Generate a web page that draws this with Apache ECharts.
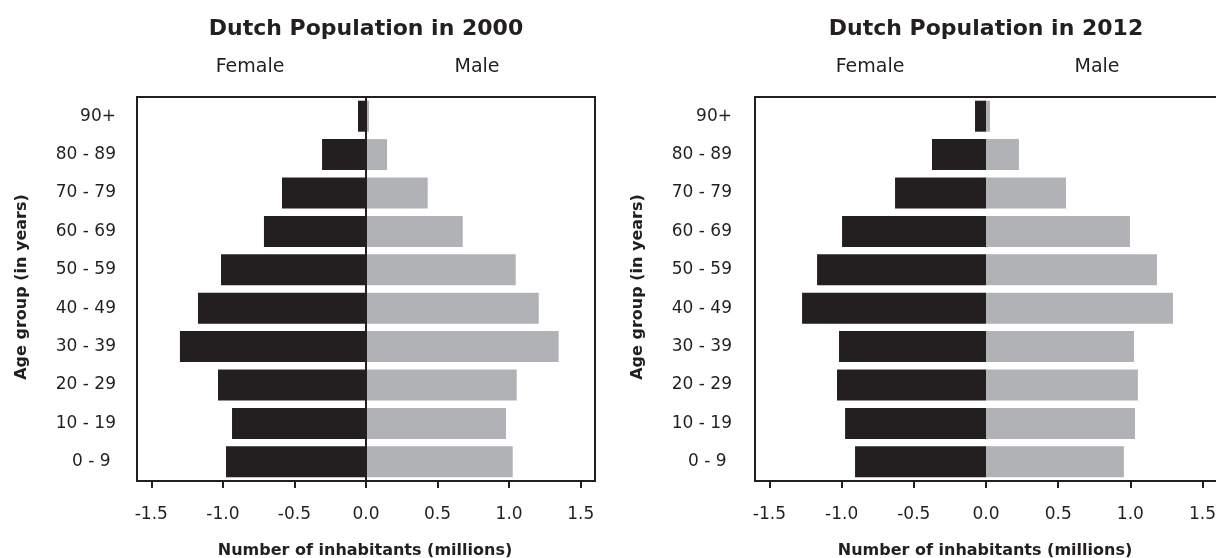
<!DOCTYPE html>
<html>
<head>
<meta charset="utf-8">
<script src="https://cdn.jsdelivr.net/npm/echarts@6/dist/echarts.min.js"></script>
<style>
html,body{margin:0;padding:0;background:#fff;}
#chart{width:1216px;height:558px;}
</style>
</head>
<body>
<div id="chart"></div>
<script>
// Age groups, bottom to top
const ageGroups = ["0 - 9 ", "10 - 19", "20 - 29", "30 - 39", "40 - 49", "50 - 59", "60 - 69", "70 - 79", "80 - 89", "90+"];
// Population in millions (bottom to top)
const female2000 = [0.978, 0.936, 1.034, 1.300, 1.174, 1.013, 0.713, 0.587, 0.307, 0.056];
const male2000   = [1.025, 0.978, 1.053, 1.346, 1.207, 1.046, 0.676, 0.431, 0.147, 0.021];
const female2012 = [0.907, 0.976, 1.032, 1.018, 1.274, 1.170, 0.997, 0.630, 0.374, 0.076];
const male2012   = [0.955, 1.032, 1.052, 1.025, 1.295, 1.184, 0.997, 0.554, 0.228, 0.028];
const xTicks = [-1.5, -1.0, -0.5, 0, 0.5, 1.0, 1.5];
const titles = ["Dutch Population in 2000", "Dutch Population in 2012"];
const sexLabels = ["Female", "Male"];
const xAxisTitle = "Number of inhabitants (millions)";
const yAxisTitle = "Age group (in years)";

const DARK = '#231f20';
const GRAY = '#b1b2b5';
const FONT = '"DejaVu Sans", "Liberation Sans", Arial, sans-serif';

const chart = echarts.init(document.getElementById('chart'), null, {renderer: 'canvas'});

function xAxisCfg(gridIndex) {
  return {
    type: 'value', gridIndex: gridIndex, min: -1.6, max: 1.6,
    axisLine: {show: false},
    splitLine: {show: false},
    axisTick: {show: true, customValues: xTicks, length: 7, lineStyle: {color: DARK, width: 2}},
    axisLabel: {customValues: xTicks, margin: 25, color: DARK, fontSize: 17, fontFamily: FONT,
      formatter: v => Number(v).toFixed(1)}
  };
}
function yAxisCfg(gridIndex, margin) {
  return {
    type: 'category', gridIndex: gridIndex, data: ageGroups,
    axisLine: {show: false},
    axisTick: {show: true, alignWithLabel: true, length: 7, lineStyle: {color: DARK, width: 2}},
    axisLabel: {interval: 0, margin: margin, color: DARK, fontSize: 17, fontFamily: FONT}
  };
}
function barSeries(idx, data, color, sign, extra) {
  return Object.assign({
    type: 'bar', xAxisIndex: idx, yAxisIndex: idx,
    data: data.map(v => sign * v),
    barWidth: 31, barGap: '-100%',
    itemStyle: {color: color},
    silent: true
  }, extra || {});
}

const centers = [366, 986];
const graphics = [];
centers.forEach((c, i) => {
  graphics.push({type: 'text', x: c, y: 29, style: {text: titles[i], fill: DARK, fontSize: 22, fontWeight: 'bold', fontFamily: FONT, textAlign: 'center', textVerticalAlign: 'middle'}});
  graphics.push({type: 'text', x: c - 116, y: 67, style: {text: sexLabels[0], fill: DARK, fontSize: 19, fontFamily: FONT, textAlign: 'center', textVerticalAlign: 'middle'}});
  graphics.push({type: 'text', x: c + 111, y: 67, style: {text: sexLabels[1], fill: DARK, fontSize: 19, fontFamily: FONT, textAlign: 'center', textVerticalAlign: 'middle'}});
  graphics.push({type: 'text', x: c - 1, y: 551, style: {text: xAxisTitle, fill: DARK, fontSize: 16, fontWeight: 'bold', fontFamily: FONT, textAlign: 'center', textVerticalAlign: 'middle'}});
});
[21.5, 638].forEach(x => {
  graphics.push({type: 'text', x: x, y: 287, rotation: Math.PI / 2, style: {text: yAxisTitle, fill: DARK, fontSize: 16, fontWeight: 'bold', fontFamily: FONT, textAlign: 'center', textVerticalAlign: 'middle'}});
});

chart.setOption({
  animation: false,
  backgroundColor: '#fff',
  grid: [
    {left: 137, top: 97, width: 458, height: 384, show: true, borderColor: DARK, borderWidth: 2, backgroundColor: 'transparent', containLabel: false, outerBoundsMode: 'none'},
    {left: 755, top: 97, width: 462, height: 384, show: true, borderColor: DARK, borderWidth: 2, backgroundColor: 'transparent', containLabel: false, outerBoundsMode: 'none'}
  ],
  xAxis: [xAxisCfg(0), xAxisCfg(1)],
  yAxis: [yAxisCfg(0, 21), yAxisCfg(1, 23)],
  series: [
    barSeries(0, female2000, DARK, -1),
    barSeries(0, male2000, GRAY, 1, {
      markLine: {silent: true, symbol: ['none', 'none'], label: {show: false},
        lineStyle: {color: DARK, width: 2, type: 'solid'}, data: [{xAxis: 0}]}
    }),
    barSeries(1, female2012, DARK, -1),
    barSeries(1, male2012, GRAY, 1)
  ],
  graphic: graphics
});
</script>
</body>
</html>
